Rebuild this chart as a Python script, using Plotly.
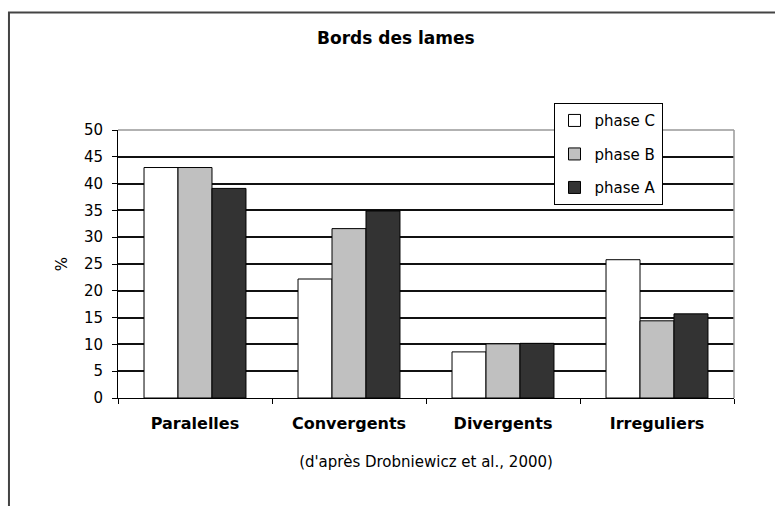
import plotly.graph_objects as go

# Edge shape categories and share (%) of blades per phase
categories = ["Paralelles", "Convergents", "Divergents", "Irreguliers"]
phase_c = [43.0, 22.2, 8.6, 25.8]
phase_b = [43.0, 31.6, 10.1, 14.4]
phase_a = [39.1, 34.9, 10.2, 15.7]
y_ticks = [0, 5, 10, 15, 20, 25, 30, 35, 40, 45, 50]

FONT = "DejaVu Sans"

series = [
    ("phase C", phase_c, "#ffffff"),
    ("phase B", phase_b, "#c0c0c0"),
    ("phase A", phase_a, "#333333"),
]

fig = go.Figure()
for name, vals, color in series:
    fig.add_trace(go.Bar(
        x=categories, y=vals, name=name, legendgroup=name,
        marker=dict(color=color, line=dict(color="#000000", width=1)),
    ))

fig.update_layout(
    width=775, height=506,
    margin=dict(l=118, r=41, t=130, b=108, autoexpand=False),
    paper_bgcolor="#ffffff", plot_bgcolor="#ffffff",
    barmode="group", bargap=0.338, bargroupgap=0,
    font=dict(family=FONT, size=15, color="#000000"),
    title=dict(text="<b>Bords des lames</b>", font=dict(family=FONT, size=17),
               xref="paper", x=0.451, xanchor="center",
               yref="container", y=1 - 38 / 506, yanchor="middle"),
    showlegend=True,
    legend=dict(x=0.707, xanchor="left", y=1.10, yanchor="top",
                bgcolor="#ffffff", bordercolor="#000000", borderwidth=1,
                traceorder="grouped", tracegroupgap=11,
                font=dict(family=FONT, size=15), itemwidth=30),
    xaxis=dict(
        type="category", tickson="boundaries", ticks="outside", ticklen=5,
        tickcolor="#000000", showline=True, linecolor="#000000", linewidth=1,
        showgrid=False, tickfont=dict(family=FONT, size=16, weight="bold"),
        ticklabelstandoff=11,
        title=dict(text="(d'après Drobniewicz et al., 2000)",
                   font=dict(family=FONT, size=15), standoff=24),
    ),
    yaxis=dict(
        range=[0, 50], tickvals=y_ticks, ticks="outside", ticklen=5,
        tickcolor="#000000", showline=True, linecolor="#000000", linewidth=1,
        showgrid=True, gridcolor="#111111", gridwidth=1.5, zeroline=False,
        tickfont=dict(family=FONT, size=15), ticklabelstandoff=6,
        title=dict(text="%", font=dict(family=FONT, size=15), standoff=12),
    ),
    shapes=[
        # light top and right edges of the plot area
        dict(type="line", xref="paper", yref="paper", x0=0, x1=1, y0=1, y1=1,
             line=dict(color="#999999", width=1.5), layer="above"),
        dict(type="line", xref="paper", yref="paper", x0=1, x1=1, y0=0, y1=1,
             line=dict(color="#999999", width=1.5), layer="above"),
        # outer chart frame
        dict(type="rect", xref="paper", yref="paper",
             x0=-0.177, x1=1.3, y0=-0.7, y1=1.4384,
             line=dict(color="#444444", width=2), layer="above"),
    ],
)

fig.write_html("out.html")
